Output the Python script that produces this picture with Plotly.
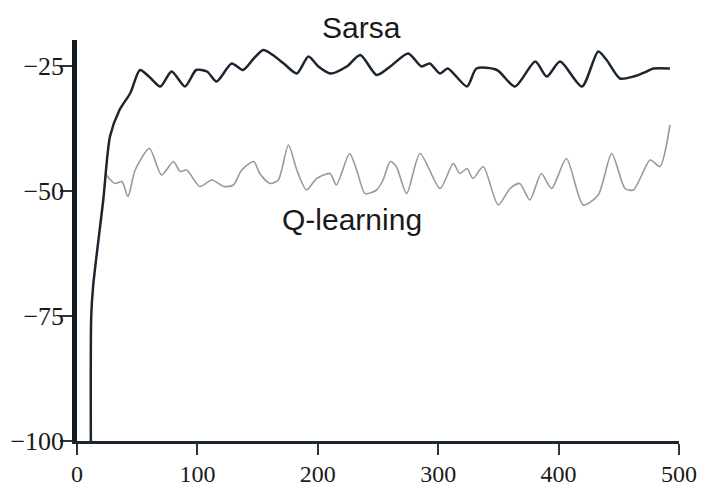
import plotly.graph_objects as go

# Sum of rewards during episode, cliff-walking task
sarsa_ep = [11.5, 11.8, 13.4, 21.8, 27.4, 35.3, 44.3, 52.3, 60.2, 69.2, 78.6,
            89.7, 99, 108, 115.9, 128.5, 137.8, 146.8, 154.7, 162.7, 171.7,
            182.6, 192.2, 200.5, 210.5, 224, 235.3, 248.9, 260.2, 275.1, 286.1,
            293, 301.5, 308, 323.9, 331.8, 348.8, 363.7, 380.6, 390.2, 401.2,
            419.4, 432.9, 439.9, 451, 462.2, 473.1, 478.7, 492.5]
sarsa_val = [-100, -75.2, -69, -51.8, -39.1, -33.8, -30.4, -25.8, -27.2, -29.1,
             -26.1, -29.1, -25.8, -26.1, -28.1, -24.5, -25.8, -23.5, -21.8,
             -22.8, -24.5, -26.5, -23.1, -25.1, -26.5, -25.1, -22.8, -26.8,
             -25.1, -22.5, -25.1, -24.5, -26.5, -25.5, -29.1, -25.5, -25.8,
             -29.1, -24.1, -27.1, -24.1, -29.1, -22.1, -23.8, -27.5, -27.1,
             -26.1, -25.5, -25.5]

q_ep = [23.4, 31.4, 37.3, 42.3, 48.3, 60.2, 70.2, 80.1, 85.6, 91.1, 102, 112,
        121.9, 129.9, 136.8, 146.8, 151.8, 160.3, 167.2, 175.6, 182.6, 190.6,
        199.1, 210.2, 215.4, 226.4, 232.3, 239.3, 248.9, 254.2, 260.2, 265.2,
        273.8, 284.9, 301.5, 312.5, 317.9, 323.9, 328.9, 337.4, 349.8, 359.7,
        367.7, 376.2, 385.6, 394.2, 406.5, 420.4, 432.9, 444.1, 455.2, 462.2,
        476.1, 484.1, 492.5]
q_val = [-46.5, -48.5, -48.1, -51.1, -45.8, -41.5, -46.8, -44.1, -46.1, -45.8,
         -49.1, -47.8, -49.1, -48.8, -45.8, -44.1, -46.5, -48.5, -47.8, -40.8,
         -45.8, -49.8, -47.5, -46.5, -48.8, -42.5, -45.8, -50.5, -49.8, -47.8,
         -44.1, -45.1, -50.5, -42.5, -49.5, -44.5, -46.5, -45.5, -47.5, -45.1,
         -52.8, -49.5, -48.5, -51.8, -46.5, -49.5, -43.5, -52.8, -50.8, -42.5,
         -49.5, -49.8, -43.8, -45.1, -36.8]

x_ticks = [0, 100, 200, 300, 400, 500]
y_ticks = [-100, -75, -50, -25]

fig = go.Figure()
fig.add_trace(go.Scatter(x=q_ep, y=q_val, mode="lines", name="Q-learning",
                         line=dict(color="#999999", width=1.6, shape="spline",
                                   smoothing=0.7)))
fig.add_trace(go.Scatter(x=sarsa_ep, y=sarsa_val, mode="lines", name="Sarsa",
                         line=dict(color="#1c2630", width=2.5, shape="spline",
                                   smoothing=0.7)))

label_font = dict(family="Liberation Sans", size=30, color="#1a1a1a")
fig.add_annotation(x=0.472, xref="paper", y=1.032, yref="paper",
                   yanchor="middle", text="Sarsa", showarrow=False,
                   font=label_font)
fig.add_annotation(x=228, y=-55.7, yanchor="middle", text="Q-learning",
                   showarrow=False, font=label_font)

fig.update_xaxes(range=[0, 500], tickvals=x_ticks, showgrid=False,
                 zeroline=False, showline=True, linecolor="#1c2630",
                 linewidth=2.5, ticks="outside", ticklen=11, tickwidth=2,
                 tickcolor="#2a3440", automargin=False,
                 tickfont=dict(family="Liberation Serif", size=24,
                               color="#1a1a1a"),
                 ticklabelstandoff=-2)
fig.update_yaxes(range=[-100, -19.8], tickvals=y_ticks, showgrid=False,
                 zeroline=False, showline=True, linecolor="#0f1a24",
                 linewidth=4.5, ticks="outside", ticklen=12, tickwidth=2,
                 tickcolor="#2a3440", automargin=False,
                 tickfont=dict(family="Liberation Serif", size=26,
                               color="#1a1a1a"),
                 ticklabelstandoff=-9)

fig.update_layout(width=704, height=486, showlegend=False,
                  margin=dict(l=77, r=25, t=40, b=45),
                  plot_bgcolor="white", paper_bgcolor="white")

fig.write_html("out.html")
